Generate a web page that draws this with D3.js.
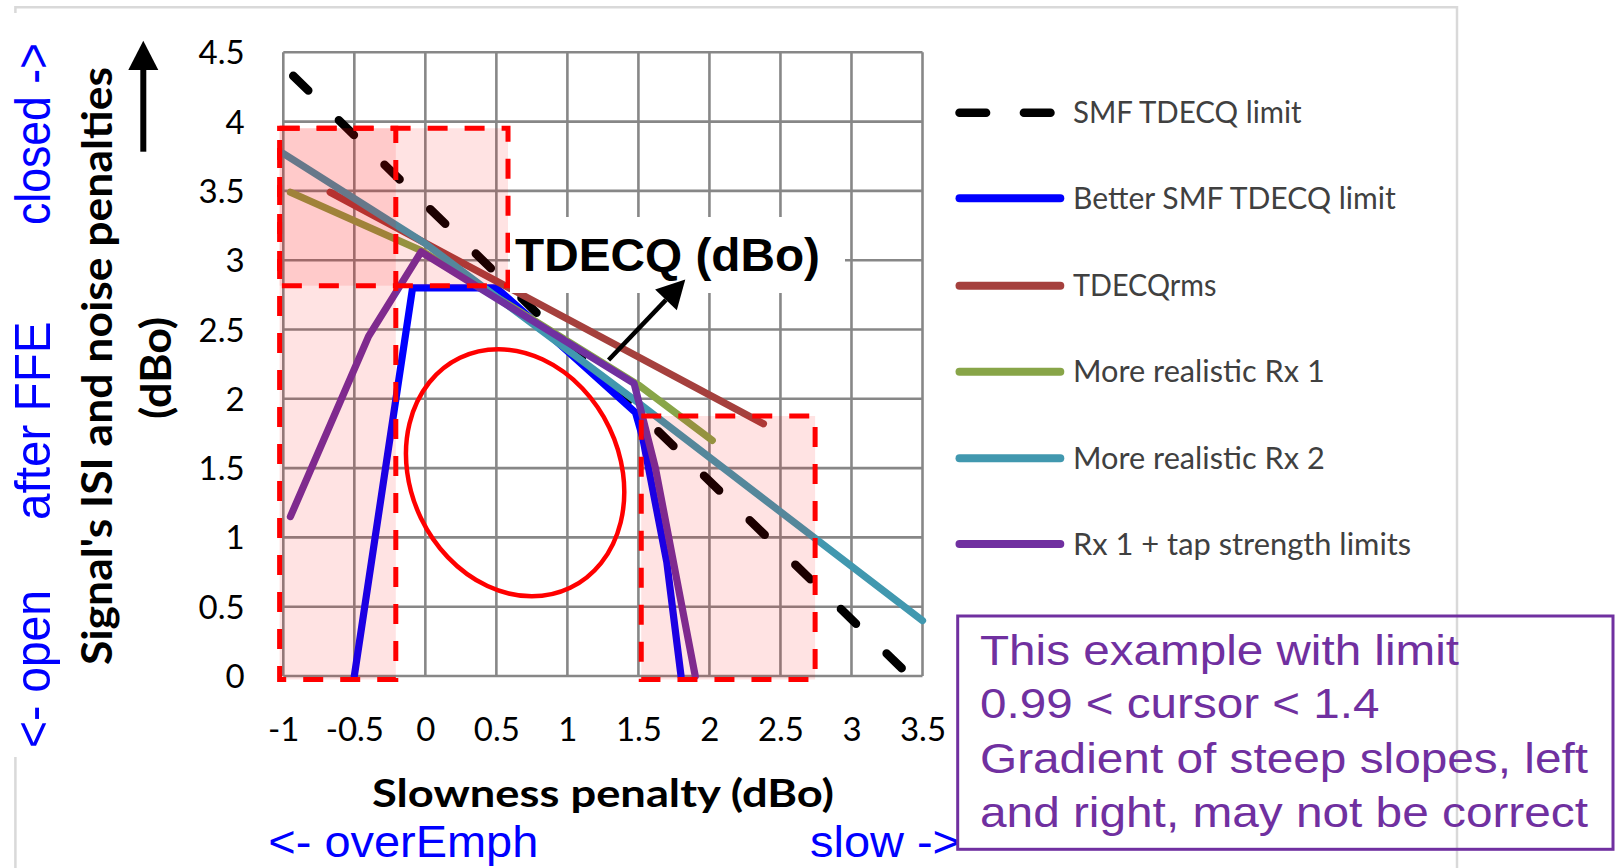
<!DOCTYPE html>
<html>
<head>
<meta charset="utf-8">
<script src="https://cdn.jsdelivr.net/npm/d3@7"></script>
<style>
  html, body { margin: 0; padding: 0; background: #ffffff; }
  svg { display: block; }
</style>
</head>
<body>
<script>
// ---------------- data ----------------
const xTicks = [-1, -0.5, 0, 0.5, 1, 1.5, 2, 2.5, 3, 3.5];
const yTicks = [0, 0.5, 1, 1.5, 2, 2.5, 3, 3.5, 4, 4.5];

const seriesNames = ["SMF TDECQ limit", "Better SMF TDECQ limit", "TDECQrms",
                     "More realistic Rx 1", "More realistic Rx 2", "Rx 1 + tap strength limits"];

const smfX    = [-0.93, 3.41];
const smfY    = [4.33, 0];
const betterX = [-0.5, -0.09, 0.5, 0.7, 1.48, 1.53, 1.7, 1.8];
const betterY = [0, 2.8, 2.8, 2.62, 1.9, 1.72, 0.82, 0];
const rmsX    = [-0.67, 2.38];
const rmsY    = [3.49, 1.82];
const rx1X    = [-0.95, -0.03, 1.5, 2.02];
const rx1Y    = [3.49, 3.07, 2.1, 1.7];
const rx2X    = [-1, 0, 1.5, 3.5];
const rx2Y    = [3.77, 3.12, 1.97, 0.4];
const tapX    = [-0.95, -0.4, -0.03, 1.47, 1.62, 1.9];
const tapY    = [1.15, 2.45, 3.06, 2.11, 1.5, 0];

// shaded regions (data units): [x0, x1, y0, y1]
const regionTop   = [-1.026, 0.582, 2.816, 3.952];
const regionLeft  = [-1.026, -0.208, -0.025, 3.952];
const regionRight = [1.52, 2.744, -0.025, 1.876];

// annotations
const ellipseCenter = [0.632, 1.466];
const arrowFrom = [1.29, 2.28];
const arrowTo   = [1.83, 2.86];
const boxLines = ["This example with limit", "0.99 < cursor < 1.4",
                  "Gradient of steep slopes, left", "and right, may not be correct"];

// ---------------- layout ----------------
const W = 1616, H = 868;
const X0 = 283.3, X1 = 922.5, Y0 = 676, Y1 = 52.3;

const svg = d3.select("body").append("svg").attr("width", W).attr("height", H);
const x = d3.scaleLinear().domain([-1, 3.5]).range([X0, X1]);
const y = d3.scaleLinear().domain([0, 4.5]).range([Y0, Y1]);

const colors = ["#000000", "#0000FF", "#A5403D", "#88A548", "#4198AF", "#7030A0"];

// chart frame
svg.append("path")
  .attr("d", `M15.4,${H} L15.4,7.3 L1457,7.3 L1457,${H}`)
  .attr("fill", "none").attr("stroke", "#d9d9d9").attr("stroke-width", 2.5);
svg.append("rect").attr("x", 0).attr("y", 13).attr("width", 66).attr("height", 744).attr("fill", "#fff");

// gridlines
const grid = svg.append("g").attr("stroke", "#878787").attr("stroke-width", 2.6);
grid.selectAll("line.v").data(xTicks).join("line")
  .attr("x1", d => x(d)).attr("x2", d => x(d)).attr("y1", y(0)).attr("y2", y(4.5));
grid.selectAll("line.h").data(yTicks).join("line")
  .attr("x1", x(-1)).attr("x2", x(3.5)).attr("y1", d => y(d)).attr("y2", d => y(d));

// series
const line = d3.line().x(d => x(d[0])).y(d => y(d[1]));
const seriesData = [
  d3.zip(smfX, smfY), d3.zip(betterX, betterY), d3.zip(rmsX, rmsY),
  d3.zip(rx1X, rx1Y), d3.zip(rx2X, rx2Y), d3.zip(tapX, tapY)
];
seriesData.forEach((pts, i) => {
  const p = svg.append("path").attr("d", line(pts))
    .attr("fill", "none").attr("stroke", colors[i])
    .attr("stroke-linejoin", "round").attr("stroke-linecap", "round");
  if (i === 0) p.attr("stroke-width", 8.5).attr("stroke-dasharray", "21,42.7");
  else p.attr("stroke-width", 7.2);
});

// shaded regions
function region(r) {
  return { x: x(r[0]), y: y(r[3]), w: x(r[1]) - x(r[0]), h: y(r[2]) - y(r[3]) };
}
[regionTop, regionLeft, regionRight].forEach(r => {
  const b = region(r);
  svg.append("rect").attr("x", b.x).attr("y", b.y).attr("width", b.w).attr("height", b.h)
    .attr("fill", "#ff0000").attr("fill-opacity", 0.11);
});
[regionTop, regionLeft, regionRight].forEach(r => {
  const b = region(r);
  svg.append("rect").attr("x", b.x).attr("y", b.y).attr("width", b.w).attr("height", b.h)
    .attr("fill", "none").attr("stroke", "#ff0000").attr("stroke-width", 5)
    .attr("stroke-dasharray", "20,17");
});

// ellipse
svg.append("ellipse")
  .attr("cx", 0).attr("cy", 0).attr("rx", 127.5).attr("ry", 104.5)
  .attr("transform", `translate(${x(ellipseCenter[0])},${y(ellipseCenter[1])}) rotate(64.4)`)
  .attr("fill", "none").attr("stroke", "#ff0000").attr("stroke-width", 4.5);

// TDECQ label with white background
svg.append("rect").attr("x", 510).attr("y", 217).attr("width", 335).attr("height", 76).attr("fill", "#fff");
svg.append("text").attr("x", 515).attr("y", 271)
  .attr("font-family", "Liberation Sans, Arial, sans-serif").attr("font-weight", "bold")
  .attr("font-size", 47).attr("fill", "#000")
  .attr("textLength", 305).attr("lengthAdjust", "spacingAndGlyphs").text("TDECQ (dBo)");

// arrow to label
{
  const ax = x(arrowFrom[0]), ay = y(arrowFrom[1]), bx = x(arrowTo[0]), by = y(arrowTo[1]);
  const ang = Math.atan2(by - ay, bx - ax);
  const hl = 28, hw = 15;
  const cx = bx - hl * Math.cos(ang), cy = by - hl * Math.sin(ang);
  svg.append("line").attr("x1", ax).attr("y1", ay).attr("x2", cx).attr("y2", cy)
    .attr("stroke", "#000").attr("stroke-width", 4.5);
  const px = -Math.sin(ang), py = Math.cos(ang);
  svg.append("polygon")
    .attr("points", `${bx},${by} ${cx + hw * px},${cy + hw * py} ${cx - hw * px},${cy - hw * py}`)
    .attr("fill", "#000");
}

// axes
const tickFont = "Lato, Carlito, sans-serif";
const yAxis = svg.append("g").attr("transform", `translate(${X0},0)`)
  .call(d3.axisLeft(y).tickValues(yTicks).tickSize(0).tickPadding(38.7).tickFormat(d => String(d)));
const xAxis = svg.append("g").attr("transform", `translate(0,${Y0})`)
  .call(d3.axisBottom(x).tickValues(xTicks).tickSize(0).tickPadding(42).tickFormat(d => String(d)));
[yAxis, xAxis].forEach(g => {
  g.select(".domain").remove();
  g.selectAll("text").attr("font-family", tickFont).attr("font-size", 33).attr("fill", "#000");
});
yAxis.selectAll("text").attr("dy", "0.35em");

// axis titles
svg.append("text").attr("transform", "translate(111.7,366) rotate(-90)")
  .attr("text-anchor", "middle").attr("font-family", tickFont).attr("font-weight", "bold")
  .attr("font-size", 42).attr("textLength", 598).attr("lengthAdjust", "spacingAndGlyphs")
  .text("Signal's ISI and noise penalties");
svg.append("text").attr("transform", "translate(171,368) rotate(-90)")
  .attr("text-anchor", "middle").attr("font-family", tickFont).attr("font-weight", "bold")
  .attr("font-size", 42).attr("textLength", 102).attr("lengthAdjust", "spacingAndGlyphs")
  .text("(dBo)");
svg.append("text").attr("x", 603).attr("y", 806.7)
  .attr("text-anchor", "middle").attr("font-family", tickFont).attr("font-weight", "bold")
  .attr("font-size", 39).attr("textLength", 462).attr("lengthAdjust", "spacingAndGlyphs")
  .text("Slowness penalty (dBo)");

// up arrow next to y title
svg.append("line").attr("x1", 143.3).attr("y1", 151.7).attr("x2", 143.3).attr("y2", 68)
  .attr("stroke", "#000").attr("stroke-width", 6);
svg.append("polygon").attr("points", "143.3,40.7 128.3,70 158.3,70").attr("fill", "#000");

// blue direction labels
const blueFont = "Liberation Sans, Arial, sans-serif";
const blueRot = [["closed ->", 225, 182], ["after FFE", 520, 198.5], ["<- open", 748, 158]];
blueRot.forEach(([t, yy, len]) => {
  svg.append("text").attr("transform", `translate(50,${yy}) rotate(-90)`)
    .attr("font-family", blueFont).attr("font-size", 50).attr("fill", "#0000FF")
    .attr("textLength", len).attr("lengthAdjust", "spacingAndGlyphs").text(t);
});
svg.append("text").attr("x", 268.3).attr("y", 857).attr("font-family", blueFont)
  .attr("font-size", 44).attr("fill", "#0000FF")
  .attr("textLength", 270).attr("lengthAdjust", "spacingAndGlyphs").text("<- overEmph");
svg.append("text").attr("x", 810).attr("y", 857).attr("font-family", blueFont)
  .attr("font-size", 44).attr("fill", "#0000FF")
  .attr("textLength", 150).attr("lengthAdjust", "spacingAndGlyphs").text("slow ->");

// legend
const legendRows = [112.7, 198.3, 285.7, 371.7, 458.3, 544];
const legendLens = [228.6, 322.7, 143.4, 251.7, 251.7, 338.2];
seriesNames.forEach((name, i) => {
  const ry = legendRows[i];
  const l = svg.append("line").attr("y1", ry).attr("y2", ry)
    .attr("stroke", colors[i]).attr("stroke-linecap", "round");
  if (i === 0) l.attr("x1", 959.5).attr("x2", 1051).attr("stroke-width", 8.5).attr("stroke-dasharray", "26.6,37.8");
  else l.attr("x1", 959.5).attr("x2", 1060.3).attr("stroke-width", 8);
  svg.append("text").attr("x", 1073).attr("y", ry + 10.6)
    .attr("font-family", tickFont).attr("font-size", 30).attr("fill", "#404040")
    .attr("textLength", legendLens[i]).attr("lengthAdjust", "spacingAndGlyphs").text(name);
});

// note box
svg.append("rect").attr("x", 957.7).attr("y", 616).attr("width", 655.3).attr("height", 233.3)
  .attr("fill", "none").attr("stroke", "#7030A0").attr("stroke-width", 3);
const boxBase = [665, 718.3, 773.3, 826.7];
const boxLens = [479, 399.4, 608, 608];
boxLines.forEach((t, i) => {
  svg.append("text").attr("x", 980).attr("y", boxBase[i])
    .attr("font-family", blueFont).attr("font-size", 43).attr("fill", "#7030A0")
    .attr("textLength", boxLens[i]).attr("lengthAdjust", "spacingAndGlyphs").text(t);
});
</script>
</body>
</html>
